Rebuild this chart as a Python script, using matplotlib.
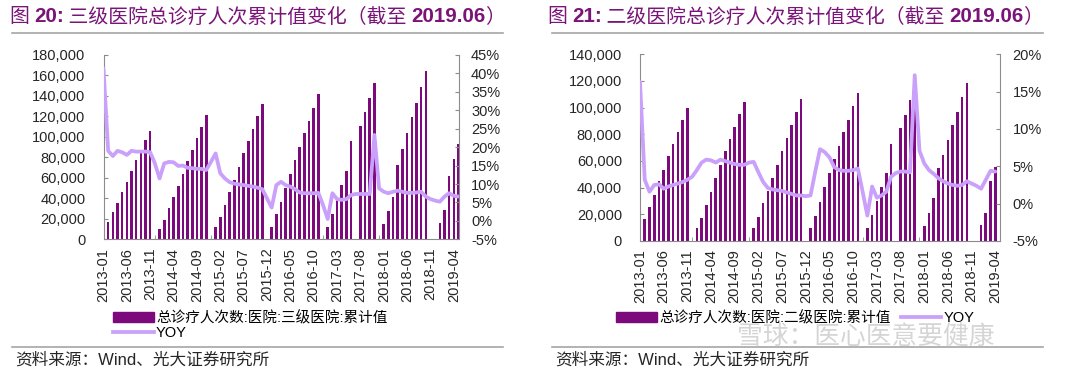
import matplotlib
matplotlib.use('Agg')
import matplotlib.pyplot as plt
import numpy as np
from matplotlib.ticker import FuncFormatter, FixedLocator
from matplotlib.patches import Patch
from matplotlib.lines import Line2D

plt.rcParams['font.family'] = ['Liberation Sans', 'Noto Sans CJK SC']

# ---------------- data ----------------
months = [f"{2013 + i // 12}-{i % 12 + 1:02d}" for i in range(77)]  # 2013-01 .. 2019-05

tier3_visits = [
    9000, 16600, 26400, 35800, 46000, 56000, 67000, 77000, 87000, 97000, 106000, None,
    10000, 18800, 30200, 41300, 52400, 63800, 76200, 87600, 98600, 110000, 121000, None,
    12400, 21800, 33900, 46200, 57800, 70200, 83800, 95700, 108000, 120200, 131800, None,
    12400, 24400, 36500, 49800, 63800, 77500, 90500, 103500, 115900, 128600, 142000, None,
    12400, 24500, 38700, 52800, 66800, 96200, None, 111000, 124500, 138300, 152300, None,
    15200, 27800, 41800, 72600, 87900, 103500, 119500, 133600, 148400, 164700, None, None,
    16300, 28600, 62000, 78000, 93400,
]
tier3_yoy = [
    41.4, 19.0, 17.6, 19.0, 18.6, 17.9, 19.0, 18.8, 18.8, 18.8, 18.6, 15.6,
    11.5, 15.6, 16.0, 15.9, 14.9, 15.0, 14.4, 14.3, 14.1, 14.1, 13.8, 16.0,
    18.3, 12.9, 11.5, 10.5, 10.1, 9.9, 9.7, 9.5, 9.3, 9.0, 8.6, 6.1,
    3.6, 9.7, 10.6, 9.7, 9.3, 8.6, 7.7, 7.5, 7.5, 7.5, 7.6, 4.3,
    0.5, 7.5, 5.9, 5.7, 5.9, 7.0, 7.3, 7.3, 7.3, 7.3, 23.3, 8.8,
    7.9, 7.5, 7.9, 8.2, 7.9, 7.6, 7.6, 7.7, 7.9, 6.6, 5.9, 5.5,
    5.2, 6.6, 7.5, 6.8, 6.6,
]

tier2_visits = [
    8800, 16700, 25700, 34500, 45000, 53600, 63700, 72800, 81600, 90700, 99500, None,
    9500, 17500, 26700, 36500, 47000, 57000, 67200, 76500, 85700, 95200, 104500, None,
    9500, 18200, 28200, 37500, 47500, 57000, 67500, 77500, 87000, 96500, 106200, None,
    10000, 18500, 29500, 40500, 50700, 61300, 71000, 81700, 90700, 101200, 110700, None,
    9500, 19500, 30200, 40500, 51200, 72800, None, 84500, 94500, 105500, 116000, None,
    11600, 20700, 32000, 54500, 64500, 76000, 87000, 97000, 108200, 118500, None, None,
    12000, 20700, 45000, 55700, None,
]
tier2_yoy = [
    16.3, 3.2, 1.6, 2.5, 2.6, 2.0, 2.3, 2.5, 2.7, 2.9, 3.2, 3.6,
    4.5, 5.5, 5.9, 5.8, 5.5, 5.9, 5.7, 5.5, 5.3, 5.2, 5.2, 5.5,
    5.6, 4.2, 2.9, 2.1, 1.9, 1.8, 1.7, 1.5, 1.3, 1.1, 1.1, 1.0,
    1.1, 4.3, 7.3, 6.9, 6.2, 4.9, 4.5, 4.4, 4.4, 4.5, 4.7, 1.6,
    -1.6, 2.3, 0.8, 1.1, 1.6, 3.6, 4.1, 4.3, 4.3, 4.2, 17.2, 7.1,
    5.4, 4.5, 4.0, 3.4, 3.0, 2.7, 2.5, 2.4, 2.5, 3.0, 2.7, 2.4,
    2.0, 3.2, 4.4, 4.3, None,
]

titles = [
    ("图 ", "20:", " 三级医院总诊疗人次累计值变化（截至 ", "2019.06", "）"),
    ("图 ", "21:", " 二级医院总诊疗人次累计值变化（截至 ", "2019.06", "）"),
]
bar_labels = ["总诊疗人次数:医院:三级医院:累计值", "总诊疗人次数:医院:二级医院:累计值"]
line_label = "YOY"
source_text = "资料来源：Wind、光大证券研究所"
watermark = "雪球：医心医意要健康"

# ---------------- style ----------------
BAR = '#7D0A7D'
LINE = '#C9A0FA'
TITLE_C = '#7A1478'
SPINE = '#8C8C8C'
TXT = '#262626'
FS = 10.5
W, H = 1080, 379

fig = plt.figure(figsize=(W / 100, H / 100), dpi=100)


def fx(px):
    return px / W


def fy(py):
    return 1 - py / H


def to_arr(v):
    return np.array([np.nan if a is None else a for a in v], dtype=float)


def panel(rect, bars, yoy, ymax, ystep, pmin, pmax, pstep):
    ax = fig.add_axes(rect)
    x = np.arange(len(months))
    ax.bar(x, to_arr(bars), width=0.55, color=BAR, zorder=2)
    ax.set_xlim(0, len(months) - 1)
    ax.set_ylim(0, ymax)
    ax.set_yticks(np.arange(0, ymax + 1, ystep))
    ax.yaxis.set_major_formatter(FuncFormatter(lambda v, p: f"{int(round(v)):,}"))
    ax.tick_params(axis='y', direction='in', length=3, color=SPINE, labelsize=FS,
                   labelcolor=TXT, pad=13)
    ax.set_xticks(np.arange(0, len(months), 5))
    ax.set_xticklabels([months[i] for i in range(0, len(months), 5)], rotation=90)
    ax.tick_params(axis='x', which='major', length=0, labelsize=FS, labelcolor=TXT, pad=6)
    ax.xaxis.set_minor_locator(FixedLocator([11, 23, 35, 47, 59, 70]))
    ax.tick_params(axis='x', which='minor', direction='in', length=3, color=SPINE)
    for s in ('top', 'right'):
        ax.spines[s].set_visible(False)
    for s in ('left', 'bottom'):
        ax.spines[s].set_color(SPINE)
    ax2 = ax.twinx()
    ax2.plot(x, to_arr(yoy), color=LINE, lw=2.7, solid_joinstyle='round',
             solid_capstyle='round', zorder=3)
    ax2.set_ylim(pmin, pmax)
    ax2.set_yticks(np.arange(pmin, pmax + 0.1, pstep))
    ax2.yaxis.set_major_formatter(FuncFormatter(lambda v, p: f"{v:.0f}%"))
    ax2.tick_params(axis='y', direction='in', length=3, color=SPINE, labelsize=FS,
                    labelcolor=TXT, pad=9)
    for s in ('top', 'left', 'bottom'):
        ax2.spines[s].set_visible(False)
    ax2.spines['right'].set_color(SPINE)
    return ax, ax2


# left panel
panel([fx(103.5), fy(239.3), fx(458.5 - 103.5), (239.3 - 55) / H],
      tier3_visits, tier3_yoy, 180000, 20000, -5, 45, 5)
# right panel
panel([fx(640), fy(241), fx(360), (241 - 54.3) / H],
      tier2_visits, tier2_yoy, 140000, 20000, -5, 20, 5)

# legends
fig.legend([Patch(color=BAR), Line2D([], [], color=LINE, lw=2.7)],
           [bar_labels[0], line_label], loc='upper left',
           bbox_to_anchor=(fx(113), fy(311)), frameon=False, fontsize=FS,
           handlelength=2.8, handletextpad=0.15, borderpad=0, borderaxespad=0,
           labelspacing=0.05)
fig.legend([Patch(color=BAR), Line2D([], [], color=LINE, lw=2.7)],
           [bar_labels[1], line_label], loc='upper left', ncol=2,
           bbox_to_anchor=(fx(616), fy(311)), frameon=False, fontsize=FS,
           handlelength=2.8, handletextpad=0.15, borderpad=0, borderaxespad=0,
           columnspacing=0.7)

# titles built from pieces
renderer = fig.canvas.get_renderer()


def seq_text(x0, y0, parts):
    x = x0
    for s, props in parts:
        t = fig.text(x, y0, s, va='center', ha='left', color=TITLE_C, **props)
        bb = t.get_window_extent(renderer)
        x += bb.width / fig.bbox.width


cjk = dict(fontsize=14.3, family=['Noto Sans CJK SC'])
num = dict(fontsize=14.8, family=['Liberation Sans'], fontweight='bold')
for tx, tt in zip((10, 548), titles):
    seq_text(fx(tx), fy(17), [(tt[0], cjk), (tt[1], num), (tt[2], cjk), (tt[3], num), (tt[4], cjk)])

# separator lines
for x0, x1 in ((12, 503), (552, 1043)):
    fig.add_artist(Line2D([fx(x0), fx(x1)], [fy(33.3)] * 2, color='#A6A6A6', lw=1.2))
    fig.add_artist(Line2D([fx(x0), fx(x1)], [fy(347)] * 2, color='#A6A6A6', lw=1.2))

# source notes
for sx in (15, 555):
    fig.text(fx(sx), fy(360), source_text, fontsize=12, color=TXT, va='center', ha='left')

# watermark
fig.text(fx(737), fy(337), watermark, fontsize=18.5, color='#C8C8C8', alpha=0.75,
         va='center', ha='left', family=['Noto Sans CJK SC'])

fig.savefig('out.png', dpi=100)
